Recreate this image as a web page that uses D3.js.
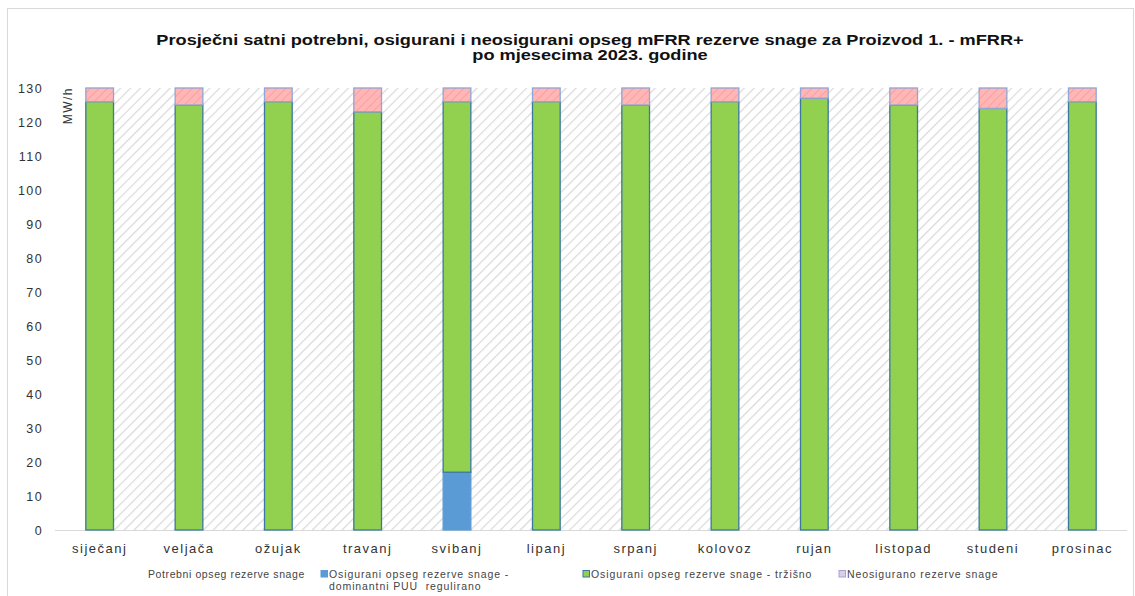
<!DOCTYPE html>
<html>
<head>
<meta charset="utf-8">
<script src="https://cdn.jsdelivr.net/npm/d3@7"></script>
<style>
  body { margin: 0; background: #fff; }
  text { font-family: "Liberation Sans", Arial, sans-serif; }
</style>
</head>
<body>
<div class="content"></div>
<script>
const months = ["siječanj", "veljača", "ožujak", "travanj", "svibanj", "lipanj", "srpanj", "kolovoz", "rujan", "listopad", "studeni", "prosinac"];
const required = [130, 130, 130, 130, 130, 130, 130, 130, 130, 130, 130, 130];
const regulated = [0, 0, 0, 0, 17, 0, 0, 0, 0, 0, 0, 0];
const market = [126, 125, 126, 123, 109, 126, 125, 126, 127, 125, 124, 126];
const yTicks = [0, 10, 20, 30, 40, 50, 60, 70, 80, 90, 100, 110, 120, 130];
const legendLabels = ["Potrebni opseg rezerve snage", "Osigurani opseg rezerve snage - dominantni PUU  regulirano", "Osigurani opseg rezerve snage - tržišno", "Neosigurano rezerve snage"];

const W = 1135, H = 596;
const MARGIN = {top: 88, right: 8, bottom: 66, left: 55};

const svg = d3.select(".content").append("svg").attr("width", W).attr("height", H);

const defs = svg.append("defs");
let bgHatch = defs.append("pattern").attr("id", "bgHatch").attr("patternUnits", "userSpaceOnUse")
  .attr("width", 7).attr("height", 7).attr("patternTransform", "rotate(45)");
bgHatch.append("rect").attr("width", 7).attr("height", 7).attr("fill", "#fff");
bgHatch.append("line").attr("x1", 0).attr("y1", 0).attr("x2", 0).attr("y2", 7).attr("stroke", "#d9d9d9").attr("stroke-width", 2.4);

let pinkHatch = defs.append("pattern").attr("id", "pinkHatch").attr("patternUnits", "userSpaceOnUse")
  .attr("width", 6).attr("height", 6).attr("patternTransform", "rotate(45)");
pinkHatch.append("rect").attr("width", 6).attr("height", 6).attr("fill", "#ffb6b6");
pinkHatch.append("line").attr("x1", 0).attr("y1", 0).attr("x2", 0).attr("y2", 6).attr("stroke", "#ff9d9d").attr("stroke-width", 2);

// frame
svg.append("rect").attr("x", 7.5).attr("y", 8.5).attr("width", W - 9).attr("height", H).attr("fill", "none").attr("stroke", "#d9d9d9");

// title (source picture is stretched horizontally, so the title is too)
const title = svg.append("text").attr("text-anchor", "middle").attr("font-weight", "bold").attr("font-size", 14).attr("fill", "#111")
  .attr("transform", "translate(590,0) scale(1.3,1)");
title.append("tspan").attr("x", 0).attr("y", 45).text("Prosječni satni potrebni, osigurani i neosigurani opseg mFRR rezerve snage za Proizvod 1. - mFRR+");
title.append("tspan").attr("x", 0).attr("y", 60).text("po mjesecima 2023. godine");

const x = d3.scaleBand().domain(months).range([MARGIN.left, W - MARGIN.right]).paddingInner(0.69).paddingOuter(0.345);
const y = d3.scaleLinear().domain([0, 130]).range([H - MARGIN.bottom, MARGIN.top]);

const rows = months.map((m, i) => ({
  month: m, required: required[i], regulated: regulated[i], market: market[i],
  uncovered: required[i] - regulated[i] - market[i]
}));

// required reserve drawn as hatched area behind the bars
const area = d3.area().x(d => x(d.month)).y0(y(0)).y1(d => y(d.required));
svg.append("path").datum(rows).attr("d", area).attr("fill", "url(#bgHatch)");

// x axis line
svg.append("line").attr("x1", MARGIN.left).attr("x2", W - MARGIN.right)
  .attr("y1", y(0) + 0.5).attr("y2", y(0) + 0.5).attr("stroke", "#d9d9d9").attr("stroke-width", 1.2);

const series = [
  {key: "regulated", fill: "#5b9bd5", stroke: "#5b9bd5"},
  {key: "market", fill: "#92d050", stroke: "#3a78a0"},
  {key: "uncovered", fill: "url(#pinkHatch)", stroke: "#8fa6d6"}
];
const stack = d3.stack().keys(series.map(s => s.key))(rows);

svg.append("g").selectAll("g").data(stack).join("g")
  .each(function(layer, li) {
    d3.select(this).selectAll("rect").data(layer.filter(d => d[1] - d[0] > 0)).join("rect")
      .attr("x", d => x(d.data.month))
      .attr("width", x.bandwidth())
      .attr("y", d => y(d[1]))
      .attr("height", d => y(d[0]) - y(d[1]))
      .attr("fill", series[li].fill)
      .attr("stroke", series[li].stroke)
      .attr("stroke-width", 1.3);
  });

// y axis labels
const yAxis = d3.axisLeft(y).tickValues(yTicks).tickSize(0).tickPadding(0);
const yG = svg.append("g").attr("transform", "translate(43,0)").call(yAxis);
yG.select(".domain").remove();
yG.selectAll("text").attr("font-size", 12.5).attr("fill", "#333").style("letter-spacing", "1.4px").attr("font-family", null);

svg.append("text").attr("transform", "translate(72," + (y(130) - 1) + ") rotate(-90)").attr("text-anchor", "end")
  .attr("font-size", 12).attr("fill", "#333").style("letter-spacing", "1.5px").text("MW/h");

// x axis labels
const xAxis = d3.axisBottom(x).tickSize(0).tickPadding(0);
const xG = svg.append("g").attr("transform", "translate(0," + (y(0) + 11) + ")").call(xAxis);
xG.select(".domain").remove();
xG.selectAll("text").attr("font-size", 13).attr("fill", "#333").style("letter-spacing", "1.5px").attr("font-family", null)
  .attr("dy", "0.9em");

// legend
const legendX = [148, 329, 591, 847];
const legendFill = ["none", "#5b9bd5", "#92d050", "#d9d0e8"];
const legendStroke = ["none", "#5b9bd5", "#3a78a0", "#a9a0d0"];
const lg = svg.append("g").attr("font-size", 10.5).attr("fill", "#444");
legendLabels.forEach((lab, i) => {
  const g = lg.append("g").attr("transform", "translate(" + legendX[i] + ",578)");
  if (i > 0) {
    g.append("rect").attr("x", -8).attr("y", -7.5).attr("width", 6.5).attr("height", 6.5)
      .attr("fill", legendFill[i]).attr("stroke", legendStroke[i]).attr("stroke-width", 1);
  }
  const t = g.append("text").attr("y", 0).style("letter-spacing", i === 0 ? "0.6px" : "0.9px");
  if (i === 1) {
    t.append("tspan").attr("x", 0).text("Osigurani opseg rezerve snage -");
    t.append("tspan").attr("x", 0).attr("dy", 12).text("dominantni PUU  regulirano").style("white-space", "pre");
  } else {
    t.text(lab);
  }
});
</script>
</body>
</html>
